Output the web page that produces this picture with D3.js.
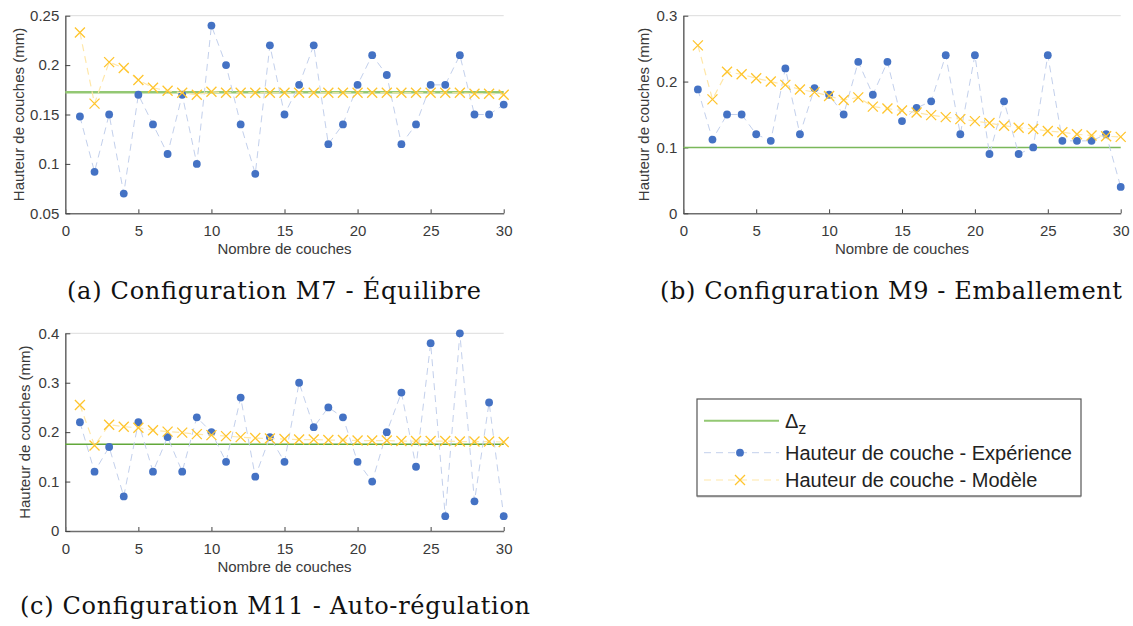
<!DOCTYPE html>
<html><head><meta charset="utf-8">
<script src="https://cdn.jsdelivr.net/npm/d3@7"></script>
<style>body{margin:0;background:#fff} svg{display:block}</style>
</head><body><svg id="c" width="1133" height="626"></svg>
<script>
// ---------- data ----------
const layers = [1,2,3,4,5,6,7,8,9,10,11,12,13,14,15,16,17,18,19,20,21,22,23,24,25,26,27,28,29,30];

const expM7   = [0.148,0.092,0.15,0.07,0.17,0.14,0.11,0.17,0.10,0.24,0.20,0.14,0.09,0.22,0.15,0.18,0.22,0.12,0.14,0.18,0.21,0.19,0.12,0.14,0.18,0.18,0.21,0.15,0.15,0.16];
const modelM7 = [0.233,0.161,0.203,0.197,0.185,0.177,0.174,0.172,0.170,0.173,0.172,0.172,0.172,0.172,0.172,0.172,0.172,0.172,0.172,0.172,0.172,0.172,0.172,0.172,0.172,0.172,0.172,0.171,0.171,0.170];
const deltaM7 = 0.1725;

const expM9   = [0.188,0.112,0.15,0.15,0.12,0.11,0.22,0.12,0.19,0.18,0.15,0.23,0.18,0.23,0.14,0.16,0.17,0.24,0.12,0.24,0.09,0.17,0.09,0.10,0.24,0.11,0.11,0.11,0.12,0.04];
const modelM9 = [0.255,0.173,0.215,0.211,0.205,0.200,0.195,0.188,0.184,0.178,0.172,0.176,0.162,0.159,0.156,0.153,0.149,0.146,0.143,0.140,0.137,0.133,0.130,0.128,0.125,0.123,0.120,0.118,0.117,0.116];
const deltaM9 = 0.1;

const expM11   = [0.22,0.12,0.17,0.07,0.22,0.12,0.19,0.12,0.23,0.20,0.14,0.27,0.11,0.19,0.14,0.30,0.21,0.25,0.23,0.14,0.10,0.20,0.28,0.13,0.38,0.03,0.40,0.06,0.26,0.03];
const modelM11 = [0.255,0.173,0.215,0.211,0.209,0.204,0.201,0.199,0.196,0.194,0.192,0.190,0.188,0.187,0.186,0.185,0.185,0.184,0.184,0.183,0.183,0.183,0.182,0.182,0.182,0.182,0.181,0.181,0.181,0.180];
const deltaM11 = 0.1755;

const xTicks    = [0,5,10,15,20,25,30];
const yTicksM7  = [0.05,0.1,0.15,0.2,0.25];
const yTicksM9  = [0,0.1,0.2,0.3];
const yTicksM11 = [0,0.1,0.2,0.3,0.4];

const xLabel = "Nombre de couches";
const yLabel = "Hauteur de couches (mm)";
const captions = ["(a) Configuration M7 - Équilibre","(b) Configuration M9 - Emballement","(c) Configuration M11 - Auto-régulation"];
const legendLabels = ["Δ","Hauteur de couche - Expérience","Hauteur de couche - Modèle"];

// ---------- style ----------
const SANS = "'Liberation Sans', Arial, sans-serif";
const SERIF = "'DejaVu Serif', serif";
const TXT = "#3a3a3a";
const AXIS = "#6e6e6e";
const BLUE = "#4472C4";
const BLUE_LINE = "#c3d0ec";
const GOLD = "#FFC52E";
const GOLD_LINE = "#ffe7a8";

const svg = d3.select("#c");

const panels = [
  {exp: expM7, model: modelM7, delta: deltaM7, yDomain:[0.05,0.25], yTicks: yTicksM7,
   x0:65.3, x1:503.7, yTop:15.7, yBot:213.3, fmt:d3.format("~g"), ylabX:18.3, green:"#93c873", gw:2.5,
   cap: captions[0], capX:274, capY:299, capW:414},
  {exp: expM9, model: modelM9, delta: deltaM9, yDomain:[0,0.3], yTicks: yTicksM9,
   x0:683.3, x1:1120.7, yTop:15.7, yBot:213.3, fmt:d3.format("~g"), ylabX:643.5, green:"#7ab85a", gw:1.5,
   cap: captions[1], capX:891, capY:299, capW:462},
  {exp: expM11, model: modelM11, delta: deltaM11, yDomain:[0,0.4], yTicks: yTicksM11,
   x0:65.3, x1:503.7, yTop:333.3, yBot:531, fmt:d3.format("~g"), ylabX:25, green:"#62a83a", gw:1.5,
   cap: captions[2], capX:275, capY:614, capW:510}
];

panels.forEach(p => {
  const x = d3.scaleLinear().domain([0,30]).range([p.x0, p.x1]);
  const y = d3.scaleLinear().domain(p.yDomain).range([p.yBot, p.yTop]);
  const g = svg.append("g");

  // top border (light)
  g.append("line").attr("x1", p.x0).attr("x2", p.x1).attr("y1", p.yTop).attr("y2", p.yTop)
    .attr("stroke", "#dcdcdc").attr("stroke-width", 1);

  // axes
  const ax = g.append("g").attr("transform", `translate(0,${p.yBot})`)
    .call(d3.axisBottom(x).tickValues(xTicks).tickSize(-4).tickSizeOuter(0).tickPadding(12).tickFormat(d3.format("d")));
  const ay = g.append("g").attr("transform", `translate(${p.x0},0)`)
    .call(d3.axisLeft(y).tickValues(p.yTicks).tickSize(-5).tickSizeOuter(0).tickPadding(6).tickFormat(p.fmt));
  [ax, ay].forEach(a => {
    a.select(".domain").attr("stroke", AXIS).attr("stroke-width", 1.6);
    a.selectAll(".tick line").attr("stroke", "#444").attr("stroke-width", 1);
    a.selectAll(".tick text").attr("fill", TXT).style("font-family", SANS).style("font-size", "15px");
  });

  // axis labels
  g.append("text").attr("x", (p.x0 + p.x1) / 2).attr("y", p.yBot + 41)
    .attr("text-anchor", "middle").attr("fill", TXT).style("font-family", SANS).style("font-size", "15px")
    .text(xLabel);
  g.append("text").attr("transform", `translate(${p.ylabX},${(p.yTop + p.yBot) / 2}) rotate(-90)`)
    .attr("text-anchor", "middle").attr("dy", "0.35em").attr("fill", TXT)
    .style("font-family", SANS).style("font-size", "15px").text(yLabel);

  // delta line
  g.append("line").attr("x1", p.x0).attr("x2", p.x1).attr("y1", y(p.delta)).attr("y2", y(p.delta))
    .attr("stroke", p.green).attr("stroke-width", p.gw);

  // experience
  const line = d3.line().x((d, i) => x(layers[i])).y(d => y(d));
  g.append("path").datum(p.exp).attr("d", line).attr("fill", "none")
    .attr("stroke", BLUE_LINE).attr("stroke-width", 1).attr("stroke-dasharray", "7,5");
  g.selectAll("circle.e").data(p.exp).enter().append("circle")
    .attr("cx", (d, i) => x(layers[i])).attr("cy", d => y(d)).attr("r", 3.9).attr("fill", BLUE);

  // model
  g.append("path").datum(p.model).attr("d", line).attr("fill", "none")
    .attr("stroke", GOLD_LINE).attr("stroke-width", 1.2).attr("stroke-dasharray", "7,5");
  const s = 5;
  g.selectAll("path.m").data(p.model).enter().append("path")
    .attr("d", (d, i) => {
      const cx = x(layers[i]), cy = y(d);
      return `M${cx - s},${cy - s}L${cx + s},${cy + s}M${cx - s},${cy + s}L${cx + s},${cy - s}`;
    })
    .attr("stroke", GOLD).attr("stroke-width", 1.3).attr("fill", "none");

  // caption
  svg.append("text").attr("x", p.capX).attr("y", p.capY).attr("text-anchor", "middle")
    .attr("textLength", p.capW).attr("lengthAdjust", "spacing")
    .attr("fill", "#111").style("font-family", SERIF).style("font-size", "24px").text(p.cap);
});

// ---------- legend ----------
const lg = svg.append("g");
lg.append("rect").attr("x", 697).attr("y", 399).attr("width", 384).attr("height", 97)
  .attr("fill", "#fff").attr("stroke", "#555").attr("stroke-width", 1.2);
lg.append("line").attr("x1", 697).attr("x2", 1081).attr("y1", 496.5).attr("y2", 496.5)
  .attr("stroke", "#888").attr("stroke-width", 1.5);

const rows = [420.7, 452.7, 480];
lg.append("line").attr("x1", 704).attr("x2", 779).attr("y1", rows[0]).attr("y2", rows[0])
  .attr("stroke", "#93c873").attr("stroke-width", 2);
lg.append("line").attr("x1", 704).attr("x2", 779).attr("y1", rows[1]).attr("y2", rows[1])
  .attr("stroke", BLUE_LINE).attr("stroke-width", 1).attr("stroke-dasharray", "7,5");
lg.append("circle").attr("cx", 740).attr("cy", rows[1]).attr("r", 3.9).attr("fill", BLUE);
lg.append("line").attr("x1", 704).attr("x2", 779).attr("y1", rows[2]).attr("y2", rows[2])
  .attr("stroke", GOLD_LINE).attr("stroke-width", 1.2).attr("stroke-dasharray", "7,5");
lg.append("path").attr("d", `M${735},${rows[2]-5}L${745},${rows[2]+5}M${735},${rows[2]+5}L${745},${rows[2]-5}`)
  .attr("stroke", GOLD).attr("stroke-width", 1.3);

const t0 = lg.append("text").attr("x", 785).attr("y", rows[0] + 7).attr("fill", "#222")
  .style("font-family", SANS).style("font-size", "20px");
t0.append("tspan").text(legendLabels[0]);
t0.append("tspan").attr("dy", 6).style("font-size", "16px").text("z");
lg.append("text").attr("x", 785).attr("y", rows[1] + 7).attr("fill", "#222")
  .style("font-family", SANS).style("font-size", "20px").text(legendLabels[1]);
lg.append("text").attr("x", 785).attr("y", rows[2] + 7).attr("fill", "#222")
  .style("font-family", SANS).style("font-size", "20px").text(legendLabels[2]);
</script>
</body></html>
